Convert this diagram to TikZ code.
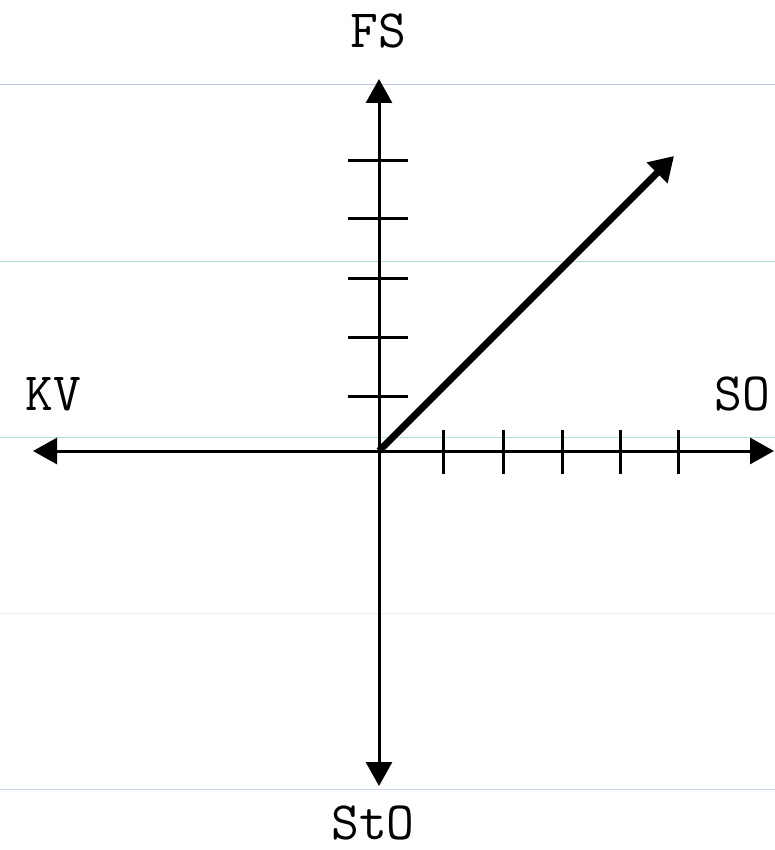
\documentclass[tikz,border=0pt]{standalone}
\usepackage{fontspec}
\usetikzlibrary{arrows.meta}
\definecolor{gA}{HTML}{C0CAE8}
\definecolor{gB}{HTML}{B8D8E0}
\definecolor{gC}{HTML}{B0E0E0}
\definecolor{gD}{HTML}{E6EEF6}
\definecolor{gE}{HTML}{C8D8F0}
\tikzset{
  gridline/.style={line width=1pt},
  axisline/.style={line width=3pt,-{Triangle[length=24pt,width=26pt]}},
  tickline/.style={line width=3pt},
  vecline/.style={line width=7pt,-{Triangle[length=24pt,width=28pt]}},
  lab/.style={font=\ttfamily\fontsize{54}{54}\selectfont,inner sep=0pt,anchor=base}
}
\begin{document}
\begin{tikzpicture}[x=1pt,y=-1pt]
\useasboundingbox (0,0) rectangle (775,850);
% background grid lines
\draw[gridline,gA] (0,85) -- (775,85);
\draw[gridline,gB] (0,261) -- (775,261);
\draw[gridline,gC] (0,437) -- (775,437);
\draw[gridline,gD] (0,613) -- (775,613);
\draw[gridline,gE] (0,789) -- (775,789);
% coordinates
\coordinate (O) at (379,451);
\coordinate (top) at (379,79);
\coordinate (bottom) at (379,786);
\coordinate (left) at (33,451);
\coordinate (right) at (774,451);
\coordinate (vec) at (674,156);
% axes
\draw[axisline] (O) -- (top);
\draw[axisline] (O) -- (bottom);
\draw[axisline] (O) -- (left);
\draw[axisline] (O) -- (right);
% ticks
\foreach \y in {161,219,278,337,396} \draw[tickline] (348,\y) -- (408,\y);
\foreach \x in {443,503,562,620,678} \draw[tickline] (\x,430) -- (\x,474);
% vector
\draw[vecline] (O) -- (vec);
% labels
\node[lab] (fs) at (378,48) {FS};
\node[lab] (kv) at (53,410) {KV};
\node[lab] (so) at (742,410) {SO};
\node[lab] (sto) at (373,839) {StO};
\end{tikzpicture}
\end{document}
